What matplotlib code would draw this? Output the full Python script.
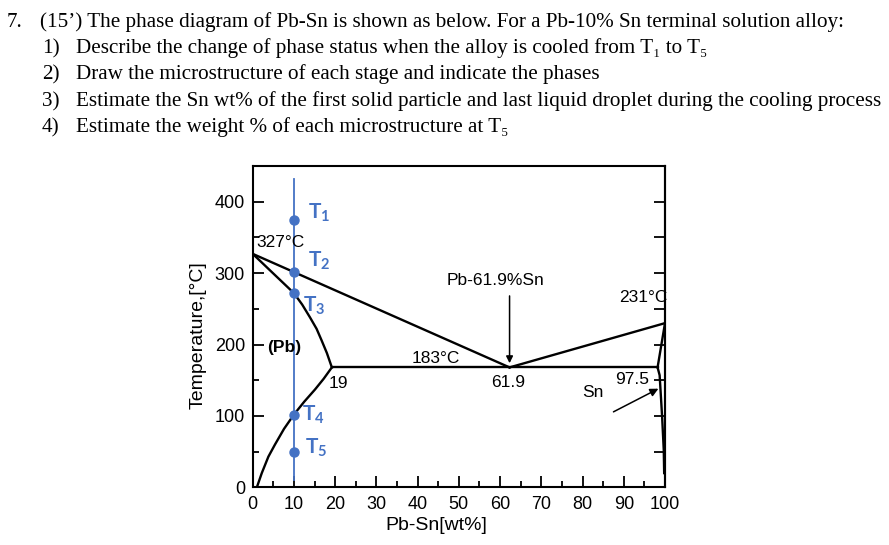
import matplotlib
matplotlib.use('Agg')
import matplotlib.pyplot as plt
import matplotlib.ticker as ticker

# ---- data (wt% Sn, temperature in C) ----
liq_left_x = [0, 62.3]
liq_left_t = [327, 168]
liq_right_x = [62.3, 100]
liq_right_t = [168, 230]

sol_left_x = [0, 5, 10, 12, 13.9, 15.5, 16.7, 18, 19.2]
sol_left_t = [327, 299.5, 272, 256, 238, 222, 206, 188, 168]

solvus_left_x = [19.2, 17.2, 15.1, 12.5, 10, 7.6, 5.4, 3.8, 2.2, 1]
solvus_left_t = [168, 152, 137, 120, 102, 82, 60, 43, 20, 0]

eutectic_x = [19.2, 98.2]
eutectic_t = [168, 168]

sol_right_x = [100, 98.2]
sol_right_t = [230, 168]
solvus_right_x = [98.2, 98.7, 99.3, 99.7, 99.8]
solvus_right_t = [168, 157, 99, 52, 20]

alloy_x = 10
alloy_t = [10, 432]
point_t = [374, 301, 272, 102, 50]
point_names = ['T$_1$', 'T$_2$', 'T$_3$', 'T$_4$', 'T$_5$']
point_label_x = [13.4, 13.4, 12.2, 11.9, 12.7]
point_label_t = [384, 317, 254, 101, 55]

question = [
    ('7.', "(15\u2019) The phase diagram of Pb-Sn is shown as below. For a Pb-10% Sn terminal solution alloy:"),
    ('1)', 'Describe the change of phase status when the alloy is cooled from T\u2081 to T\u2085'),
    ('2)', 'Draw the microstructure of each stage and indicate the phases'),
    ('3)', 'Estimate the Sn wt% of the first solid particle and last liquid droplet during the cooling process'),
    ('4)', 'Estimate the weight % of each microstructure at T\u2085'),
]

plt.rcParams['font.family'] = ['Liberation Sans', 'DejaVu Sans']
plt.rcParams['mathtext.default'] = 'regular'

W, H = 889, 545
fig = plt.figure(figsize=(W / 100, H / 100), dpi=100)

# question text on top
serif = ['Liberation Serif', 'DejaVu Serif']
qfs = 15.2
baselines = [27, 53, 79, 106, 132]
for i, (num, txt) in enumerate(question):
    y = 1 - baselines[i] / H
    if i == 0:
        fig.text(7 / W, y, num, family=serif, fontsize=qfs, va='baseline')
        fig.text(40 / W, y, txt, family=serif, fontsize=qfs, va='baseline')
    else:
        fig.text(42 / W, y, num, family=serif, fontsize=qfs, va='baseline')
        fig.text(76 / W, y, txt, family=serif, fontsize=qfs, va='baseline')

ax = fig.add_axes([252.7 / W, 1 - 487.4 / H, (665 - 252.7) / W, (487.4 - 166) / H])

lw = 1.7
ax.plot(liq_left_x, liq_left_t, color='black', lw=lw)
ax.plot(liq_right_x, liq_right_t, color='black', lw=lw)
ax.plot(sol_left_x, sol_left_t, color='black', lw=lw)
ax.plot(solvus_left_x, solvus_left_t, color='black', lw=lw)
ax.plot(eutectic_x, eutectic_t, color='black', lw=lw)
ax.plot(sol_right_x, sol_right_t, color='black', lw=lw)
ax.plot(solvus_right_x, solvus_right_t, color='black', lw=lw)

blue = '#4472C4'
ax.plot([alloy_x, alloy_x], alloy_t, color=blue, lw=1.3)
ax.plot([alloy_x] * len(point_t), point_t, 'o', color=blue, markersize=6.5)
for name, lx, lt in zip(point_names, point_label_x, point_label_t):
    ax.text(lx, lt, name, color=blue, fontsize=15, fontweight='bold',
            family=['Lato', 'DejaVu Sans'], va='center', ha='left')

# annotations
fs = 12.5
ax.text(0.8, 343, '327°C', fontsize=fs, va='center', ha='left')
ax.text(3.5, 196, '(Pb)', fontsize=fs, fontweight='bold', va='center', ha='left')
ax.text(20.7, 146, '19', fontsize=fs, va='center', ha='center')
ax.text(44.3, 180, '183°C', fontsize=fs, va='center', ha='center')
ax.text(58.8, 289, 'Pb-61.9%Sn', fontsize=fs, va='center', ha='center')
ax.text(61.9, 147, '61.9', fontsize=fs, va='center', ha='center')
ax.text(100.6, 266, '231°C', fontsize=fs, va='center', ha='right', clip_on=False)
ax.text(92, 151, '97.5', fontsize=fs, va='center', ha='center')
ax.text(82.5, 133, 'Sn', fontsize=fs, va='center', ha='center')

ax.annotate('', xy=(62.3, 170), xytext=(62.3, 272),
            arrowprops=dict(arrowstyle='-|>', color='black', lw=1.1, mutation_scale=10))
ax.annotate('', xy=(99, 140), xytext=(86.9, 104),
            arrowprops=dict(arrowstyle='-|>', color='black', lw=1.1, mutation_scale=12))

ax.set_xlim(0, 100)
ax.set_ylim(0, 450)
ax.set_xticks(range(0, 101, 10))
ax.xaxis.set_minor_locator(ticker.MultipleLocator(5))
ax.set_yticks(range(0, 401, 100))
ax.yaxis.set_minor_locator(ticker.MultipleLocator(50))
ax.tick_params(which='major', direction='in', length=8, width=1.3, labelsize=13)
ax.tick_params(which='minor', direction='in', length=4, width=1.3)
ax.tick_params(axis='y', which='both', pad=5.5)
ax.tick_params(axis='x', which='both', pad=6.5)

sec = ax.secondary_yaxis('right')
sec.set_yticks(range(50, 451, 50))
sec.tick_params(direction='in', length=8, width=1.3, labelright=False)

for sp in ax.spines.values():
    sp.set_linewidth(1.5)
sec.spines['right'].set_linewidth(1.5)

ax.set_xlabel('Pb-Sn[wt%]', fontsize=14)
ax.set_ylabel('Temperature,[°C]', fontsize=14)
ax.xaxis.set_label_coords(0.446, -0.092)
ax.yaxis.set_label_coords(-0.111, 0.474)

fig.savefig('out.png', dpi=100)
